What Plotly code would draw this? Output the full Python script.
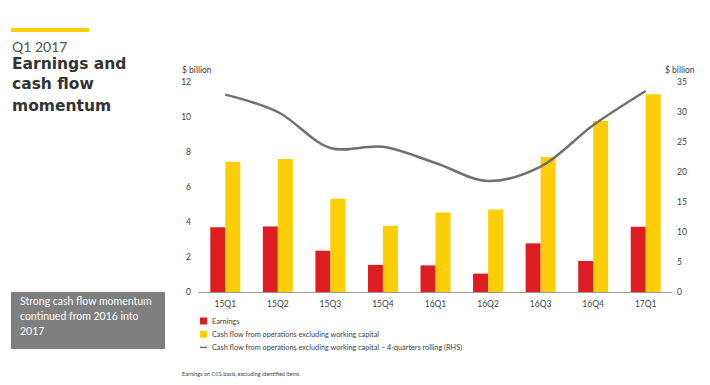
import plotly.graph_objects as go

quarters = ["15Q1", "15Q2", "15Q3", "15Q4", "16Q1", "16Q2", "16Q3", "16Q4", "17Q1"]
earnings = [3.70, 3.75, 2.36, 1.55, 1.52, 1.05, 2.78, 1.77, 3.73]
cffo = [7.45, 7.60, 5.33, 3.79, 4.55, 4.72, 7.71, 9.77, 11.30]
cffo_rolling = [32.9, 30.0, 24.0, 24.2, 21.5, 18.5, 20.9, 27.8, 33.5]
left_ticks = [0, 2, 4, 6, 8, 10, 12]
right_ticks = [0, 5, 10, 15, 20, 25, 30, 35]

RED = "#dd1d21"
YELLOW = "#fbce07"
GRAY = "#707070"
TXT = "#404040"
FONT = "Lato"

# the page body adds an 8px offset; compensate so the visible picture lines up
OFF = 8
PL, PR, PT, PB = 199, 672, 82, 292  # plot area in window pixels
W, H = 710 - OFF, 385 - OFF

fig = go.Figure()
fig.add_trace(go.Bar(x=quarters, y=earnings, name="Earnings", marker=dict(color=RED, line=dict(width=0)), showlegend=False))
fig.add_trace(go.Bar(x=quarters, y=cffo, name="Cash flow from operations excluding working capital",
                     marker=dict(color=YELLOW, line=dict(width=0)), showlegend=False))
fig.add_trace(go.Scatter(x=quarters, y=cffo_rolling, yaxis="y2", mode="lines",
                         line=dict(color=GRAY, width=2.5, shape="spline", smoothing=1.0),
                         name="Cash flow from operations excluding working capital \u2013 4-quarters rolling (RHS)",
                         showlegend=False))

fig.update_layout(
    width=W, height=H,
    margin=dict(l=PL - OFF, r=W - (PR - OFF), t=PT - OFF, b=H - (PB - OFF), pad=0),
    paper_bgcolor="white", plot_bgcolor="white",
    font=dict(family=FONT, color=TXT, size=9),
    barmode="group", bargap=0.43, bargroupgap=0,
    xaxis=dict(showgrid=False, showline=True, linecolor="#9a9a9a", linewidth=1,
               ticks="", tickfont=dict(size=8.5, color=TXT), ticklabelstandoff=4, fixedrange=True),
    yaxis=dict(range=[0, 12], tickvals=left_ticks, showgrid=False, zeroline=False,
               showline=False, ticks="", tickfont=dict(size=8.5, color=TXT), ticklabelstandoff=7),
    yaxis2=dict(range=[0, 35], tickvals=right_ticks, overlaying="y", side="right",
                showgrid=False, zeroline=False, showline=False, ticks="",
                tickfont=dict(size=8.5, color=TXT), ticklabelstandoff=4),
)

def px(x):
    return (x - PL) / (PR - PL)

def py(y):
    return (PB - y) / (PB - PT)

shapes = []
annotations = []
# yellow accent bar
shapes.append(dict(type="rect", xref="paper", yref="paper", x0=px(11), x1=px(89),
                   y0=py(32), y1=py(28), fillcolor=YELLOW, line=dict(width=0)))
# gray callout box
shapes.append(dict(type="rect", xref="paper", yref="paper", x0=px(11), x1=px(165),
                   y0=py(349), y1=py(292), fillcolor="#7f7f7f", line=dict(width=0), layer="below"))

annotations.append(dict(text="Q1 2017", x=px(10), y=py(47), xref="paper", yref="paper",
                        xanchor="left", yanchor="middle", showarrow=False,
                        font=dict(size=14, color="#555555", family=FONT)))
for txt, yc in [("Earnings and", 64), ("cash flow", 84), ("momentum", 106)]:
    annotations.append(dict(text="<b>" + txt + "</b>", x=px(10), y=py(yc), xref="paper", yref="paper",
                            xanchor="left", yanchor="middle", showarrow=False, align="left",
                            font=dict(size=15.5, color="#333333", family="DejaVu Sans")))
for txt, yc in [("Strong cash flow momentum", 301), ("continued from 2016 into", 316), ("2017", 331)]:
    annotations.append(dict(text=txt, x=px(18), y=py(yc), xref="paper", yref="paper",
                            xanchor="left", yanchor="middle", showarrow=False, align="left",
                            font=dict(size=10.5, color="white", family=FONT)))
annotations.append(dict(text="$ billion", x=px(180), y=py(70), xref="paper", yref="paper",
                        xanchor="left", yanchor="middle", showarrow=False, font=dict(size=8.5, color=TXT)))
annotations.append(dict(text="$ billion", x=px(663), y=py(70), xref="paper", yref="paper",
                        xanchor="left", yanchor="middle", showarrow=False, font=dict(size=8.5, color=TXT)))

# legend (manual)
legend_items = [("Earnings", RED, "box"),
                ("Cash flow from operations excluding working capital", YELLOW, "box"),
                ("Cash flow from operations excluding working capital \u2013 4-quarters rolling (RHS)", GRAY, "line")]
for i, (label, color, kind) in enumerate(legend_items):
    yc = 321 + i * 13.2
    if kind == "box":
        shapes.append(dict(type="rect", xref="paper", yref="paper", x0=px(200), x1=px(207),
                           y0=py(yc + 3.5), y1=py(yc - 3.5), fillcolor=color, line=dict(width=0)))
    else:
        shapes.append(dict(type="line", xref="paper", yref="paper", x0=px(200), x1=px(207),
                           y0=py(yc), y1=py(yc), line=dict(color=color, width=1.5)))
    annotations.append(dict(text=label, x=px(210), y=py(yc), xref="paper", yref="paper",
                            xanchor="left", yanchor="middle", showarrow=False,
                            font=dict(size=7.3, color=TXT)))

annotations.append(dict(text="Earnings on CCS basis, excluding identified items", x=px(180), y=py(374),
                        xref="paper", yref="paper", xanchor="left", yanchor="middle", showarrow=False,
                        font=dict(size=5.5, color=TXT)))

fig.update_layout(shapes=shapes, annotations=annotations)
fig.write_html("out.html")
